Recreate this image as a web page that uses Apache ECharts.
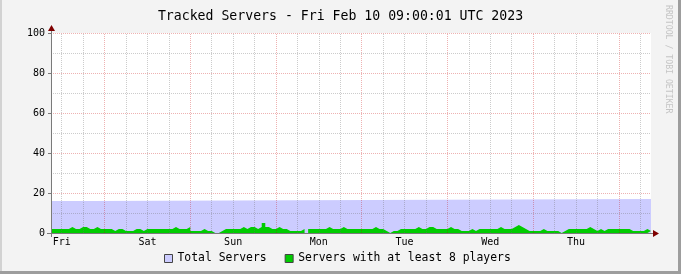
<!DOCTYPE html>
<html><head><meta charset="utf-8">
<script src="https://cdn.jsdelivr.net/npm/echarts@6/dist/echarts.min.js"></script>
<style>html,body{margin:0;padding:0;background:#f3f3f3}#c{width:681px;height:274px}</style>
</head><body><div id="c"></div>
<script>
// ---- data ----
const titleText = 'Tracked Servers - Fri Feb 10 09:00:01 UTC 2023';
const seriesNames = ['Total Servers', 'Servers with at least 8 players'];
// x values are hours since Fri Feb 3 09:00 UTC
const dayLabels = ['Fri', 'Sat', 'Sun', 'Mon', 'Tue', 'Wed', 'Thu'];
const dayLabelHours = [3, 27, 51, 75, 99, 123, 147];      // noon of each day
const midnightHours = [15, 39, 63, 87, 111, 135, 159];     // day boundaries
const yTickValues = [0, 20, 40, 60, 80, 100];
const totalHours = [0, 12, 168];
const totalServers = [16, 17, 17];
const playersHourly = [
  2,2,2,2,2,3,2,2,3,3,2,2,3,2,2,2,2,1,2,2,1,1,1,2,
  2,1,2,2,2,2,2,2,2,2,3,2,2,2,3,1,1,1,2,1,1,0,0,1,
  2,2,2,2,2,3,2,3,3,2,3,5,3,2,2,3,2,2,1,1,1,1,2,0,
  2,2,2,2,2,3,2,2,2,3,2,2,2,2,2,2,2,2,3,2,2,1,0,1,
  1,2,2,2,2,2,3,2,2,3,3,2,2,2,2,3,2,2,1,1,1,2,1,2,
  2,2,2,2,2,3,2,2,2,3,4,3,2,1,1,1,1,2,1,1,1,1,0,1,
  2,2,2,2,2,2,3,2,1,2,1,2,2,2,2,2,2,2,1,1,1,1,2,1
];

// ---- build ----
const FONT = 'DejaVu Sans Mono';
const X_MAX = 168;
const totalData = totalHours.map((h, i) => [h, totalServers[i]]);
const playerData = playersHourly.map((v, i) => [i, v]);
playerData.push([X_MAX, playersHourly[playersHourly.length - 1]]);

const majorStyle = { color: 'rgba(200,0,0,0.3)', width: 1, type: [1, 1] };
const minorStyle = { color: 'rgba(110,110,110,0.35)', width: 1, type: [1, 1] };
const gridLines = [];
for (let h = 3; h < X_MAX; h += 6) {
  const major = midnightHours.indexOf(h) >= 0;
  gridLines.push({ xAxis: h, lineStyle: major ? majorStyle : minorStyle });
}
for (let v = 10; v <= 100; v += 10) {
  const major = yTickValues.indexOf(v) >= 0;
  gridLines.push({ yAxis: v, lineStyle: major ? majorStyle : minorStyle });
}

const chart = echarts.init(document.getElementById('c'), null, { renderer: 'canvas' });
chart.setOption({
  animation: false,
  backgroundColor: '#f3f3f3',
  title: {
    text: titleText, left: 'center', top: 5,
    textStyle: { fontFamily: FONT, fontSize: 13.2, fontWeight: 'normal', color: '#000' }
  },
  legend: {
    left: 164, top: 253, padding: 0, itemWidth: 8, itemHeight: 8, itemGap: 18,
    textStyle: { fontFamily: FONT, fontSize: 11.4, color: '#000' },
    data: [
      { name: seriesNames[0], icon: 'rect', itemStyle: { color: '#ccccff', borderColor: '#444', borderWidth: 1, opacity: 1 } },
      { name: seriesNames[1], icon: 'rect', itemStyle: { color: '#00cc00', borderColor: '#444', borderWidth: 1, opacity: 1 } }
    ],
    selectedMode: false
  },
  grid: { left: 51, top: 33, width: 600, height: 200, show: true, backgroundColor: '#ffffff', borderWidth: 0 },
  xAxis: {
    type: 'value', min: 0, max: X_MAX,
    axisLine: { show: true, lineStyle: { color: '#7a7a7a', width: 1 } },
    axisTick: { show: false },
    splitLine: { show: false },
    axisLabel: {
      customValues: dayLabelHours, margin: 4,
      fontFamily: FONT, fontSize: 10, color: '#000',
      formatter: v => dayLabels[dayLabelHours.indexOf(v)] || ''
    }
  },
  yAxis: {
    type: 'value', min: 0, max: 100, interval: 20,
    axisLine: { show: true, lineStyle: { color: '#7a7a7a', width: 1 } },
    axisTick: { show: true, length: 3, lineStyle: { color: '#7a7a7a' } },
    splitLine: { show: false },
    axisLabel: { margin: 6, fontFamily: FONT, fontSize: 10, color: '#000' }
  },
  series: [
    {
      name: seriesNames[0], type: 'line', step: 'end', data: totalData,
      showSymbol: false, symbol: 'none', color: '#ccccff',
      lineStyle: { width: 0, opacity: 0 }, areaStyle: { color: '#ccccff', opacity: 1 }, z: 2
    },
    {
      name: seriesNames[1], type: 'line', step: 'end', data: playerData,
      showSymbol: false, symbol: 'none', color: '#00cc00',
      lineStyle: { width: 0, opacity: 0 }, areaStyle: { color: '#00cc00', opacity: 1 }, z: 3
    },
    {
      name: 'grid', type: 'line', data: [], z: 5, silent: true,
      markLine: { silent: true, symbol: ['none', 'none'], label: { show: false }, animation: false, data: gridLines }
    }
  ]
});

// decorations: axis arrows, frame, watermark
const o = chart.convertToPixel({ gridIndex: 0 }, [0, 0]);
const xe = chart.convertToPixel({ gridIndex: 0 }, [X_MAX, 0]);
const ye = chart.convertToPixel({ gridIndex: 0 }, [0, 100]);
const W = 681, H = 274;
chart.setOption({
  graphic: [
    { type: 'line', shape: { x1: o[0] - 4, y1: o[1] + 0.5, x2: xe[0] + 3, y2: o[1] + 0.5 }, style: { stroke: '#7a7a7a', lineWidth: 1 }, z: 10 },
    { type: 'line', shape: { x1: o[0] + 0.5, y1: o[1] + 4, x2: o[0] + 0.5, y2: ye[1] - 3 }, style: { stroke: '#7a7a7a', lineWidth: 1 }, z: 10 },
    { type: 'polygon', shape: { points: [[xe[0] + 2, o[1] - 3], [xe[0] + 8, o[1] + 0.5], [xe[0] + 2, o[1] + 4]] }, style: { fill: '#7f0000' }, z: 11 },
    { type: 'polygon', shape: { points: [[o[0] - 3, ye[1] - 2], [o[0] + 0.5, ye[1] - 8], [o[0] + 4, ye[1] - 2]] }, style: { fill: '#7f0000' }, z: 11 },
    { type: 'rect', shape: { x: 0, y: 0, width: 2, height: H }, style: { fill: '#d2d2d2' }, z: 12 },
    { type: 'rect', shape: { x: W - 3, y: 0, width: 3, height: H }, style: { fill: '#9d9d9d' }, z: 12 },
    { type: 'rect', shape: { x: 0, y: H - 3, width: W, height: 3 }, style: { fill: '#9d9d9d' }, z: 12 },
    { type: 'text', x: 668, y: 5, rotation: -Math.PI / 2,
      style: { text: 'RRDTOOL / TOBI OETIKER', fontFamily: FONT, fontSize: 8.2, fill: '#c4c4c4', align: 'left', verticalAlign: 'middle' }, z: 12 }
  ]
});
</script>
</body></html>
